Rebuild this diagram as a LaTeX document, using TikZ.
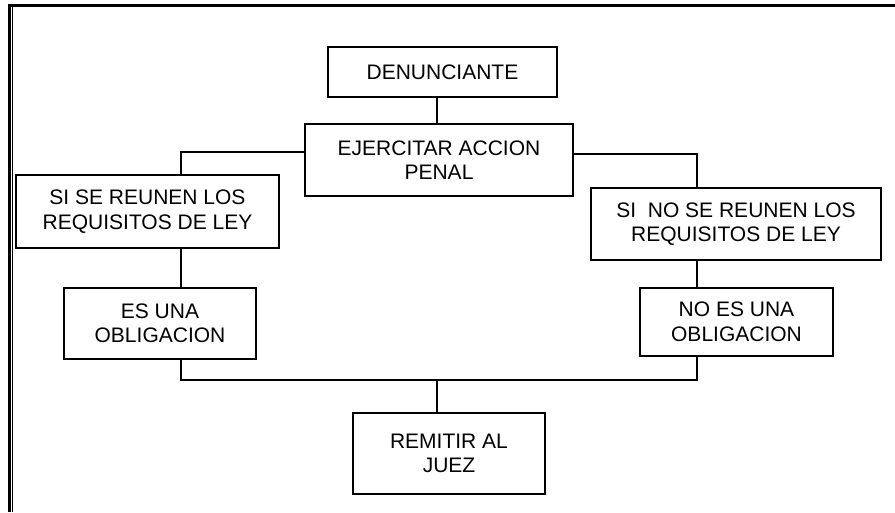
\documentclass[tikz,border=0pt]{standalone}
\usepackage{fontspec}
\setmainfont{Liberation Sans}
\tikzset{
    block/.style={draw, rectangle, line width=1.2pt, inner sep=0pt, align=center, font=\fontsize{21}{24.5}\selectfont},
    link/.style={line width=1.2pt}
}
\begin{document}
\begin{tikzpicture}[x=1pt, y=-1pt]
    \useasboundingbox (0,0) rectangle (895,512);
    \draw[line width=3.5pt] (8,5.5) -- (895,5.5);
    \draw[line width=2.8pt] (9.4,4) -- (9.4,512);
    \draw[line width=1.4pt] (12.7,7) -- (12.7,512);

    \node[block, minimum width=229pt, minimum height=50pt] (den) at (442.5,72) {DENUNCIANTE};
    \node[block, minimum width=268pt, minimum height=72pt] (acc) at (439,160) {EJERCITAR ACCION\\PENAL};
    \node[block, minimum width=263pt, minimum height=73pt] (si) at (147.5,211.5) {SI SE REUNEN LOS\\REQUISITOS DE LEY};
    \node[block, minimum width=192pt, minimum height=71pt] (es) at (160,323.5) {ES UNA\\OBLIGACION};
    \node[block, minimum width=290pt, minimum height=72pt] (sino) at (736,224) {SI~ NO SE REUNEN LOS\\REQUISITOS DE LEY};
    \node[block, minimum width=193pt, minimum height=68pt] (noes) at (736.5,322) {NO ES UNA\\OBLIGACION};
    \node[block, minimum width=192pt, minimum height=81pt] (rem) at (449,453.5) {REMITIR AL\\JUEZ};

    \coordinate (lft) at (181,152);
    \coordinate (rgt) at (697,154);
    \coordinate (mid) at (437,380);

    \draw[link] (den.south -| mid) -- (acc.north -| mid);
    \draw[link] (acc.west |- lft) -| (si.north -| lft);
    \draw[link] (acc.east |- rgt) -| (sino.north -| rgt);
    \draw[link] (si.south -| lft) -- (es.north -| lft);
    \draw[link] (sino.south -| rgt) -- (noes.north -| rgt);
    \draw[link] (es.south -| lft) |- (mid) -| (noes.south -| rgt);
    \draw[link] (mid) -- (rem.north -| mid);
\end{tikzpicture}
\end{document}
